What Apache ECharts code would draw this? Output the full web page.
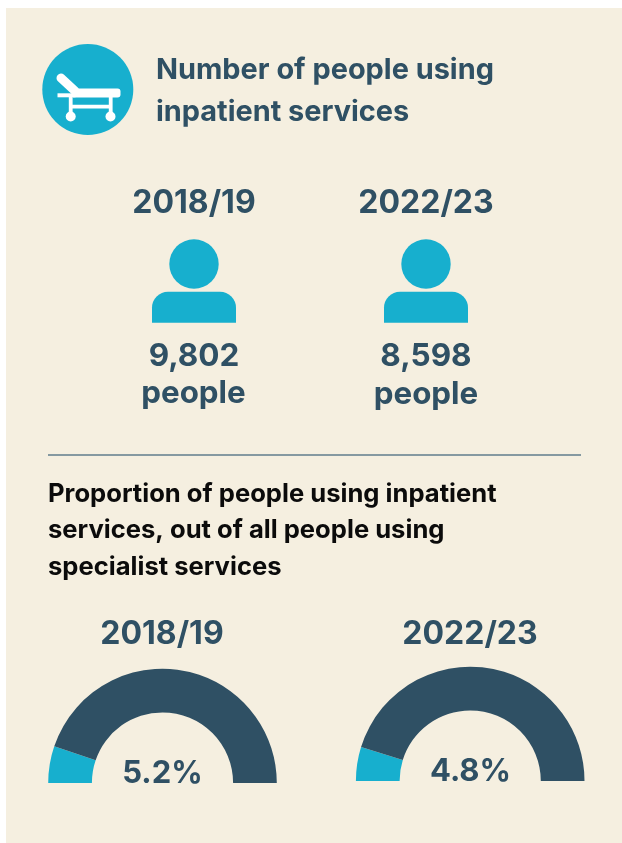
<!DOCTYPE html>
<html><head><meta charset="utf-8">
<style>html,body{margin:0;padding:0;background:#fff}#c{width:622px;height:843px}</style>
<script src="https://cdn.jsdelivr.net/npm/echarts@6/dist/echarts.min.js"></script>
</head><body><div id="c"></div>
<script>
const titleLines = ['Number of people using','inpatient services'];
const sectionLines = ['Proportion of people using inpatient','services, out of all people using','specialist services'];
const years = ['2018/19','2022/23'];
const peopleCounts = ['9,802','8,598'];
const shareValues = [5.2,4.8];
const halfRingTotal = 50;
const remainder = shareValues.map(v => +(halfRingTotal - v).toFixed(1));

const BG='#F5EFE0', TEAL='#17AFCE', DARK='#2F5064', FONT='Inter';
const chart = echarts.init(document.getElementById('c'),null,{renderer:'canvas'});
const txt=(s,x,y,size,fill,align,weight)=>({type:'text',z:10,style:{text:s,x,y,fill,align:align||'center',verticalAlign:'middle',fontFamily:FONT,fontSize:size,fontWeight:weight||700}});
const g=[];
g.push({type:'rect',z:-1,shape:{x:6,y:8,width:616,height:835},style:{fill:BG}});
// bed icon
g.push({type:'circle',z:5,shape:{cx:87.8,cy:89.5,r:45.5},style:{fill:TEAL}});
const W={fill:'#fff'};
g.push({type:'line',z:6,shape:{x1:61,y1:78,x2:75,y2:91},style:{stroke:'#fff',lineWidth:9,lineCap:'round'}});
g.push({type:'rect',z:6,shape:{x:73,y:88.5,width:47.5,height:9,r:[0,3,3,0]},style:W});
g.push({type:'rect',z:6,shape:{x:57.5,y:93.3,width:18,height:4},style:W});
g.push({type:'rect',z:6,shape:{x:68.8,y:96,width:3.8,height:20},style:W});
g.push({type:'rect',z:6,shape:{x:108.8,y:96,width:3.8,height:20},style:W});
g.push({type:'rect',z:6,shape:{x:69,y:104.8,width:43,height:3.8},style:W});
g.push({type:'circle',z:6,shape:{cx:70.7,cy:116.5,r:5},style:W});
g.push({type:'circle',z:6,shape:{cx:110.5,cy:116.5,r:5},style:W});
titleLines.forEach((s,i)=>g.push(txt(s,156,[70,112][i],28.9,DARK,'left',700)));
// people panels
[194,426].forEach((cx,i)=>{
  g.push(txt(years[i],cx,203,32,DARK));
  g.push({type:'circle',z:5,shape:{cx,cy:264,r:24.7},style:{fill:TEAL}});
  g.push({type:'rect',z:5,shape:{x:cx-42,y:291.7,width:84,height:31,r:[16,16,0,0]},style:{fill:TEAL}});
  g.push(txt(peopleCounts[i],[194,426][i],357,31.5,DARK));
  g.push(txt('people',[193.5,426][i],[394,395][i],31.3,DARK));
});
g.push({type:'rect',z:5,shape:{x:48,y:454.3,width:533,height:1.4},style:{fill:'#5F7D8C'}});
sectionLines.forEach((s,i)=>g.push(txt(s,48,[494,530,567][i],25.6,'#0B0B0B','left',700)));
// ring labels
const ringCx=[162.5,470.2], ringCy=[783,781];
years.forEach((y,i)=>{
  g.push(txt(y,[162,470][i],634,32,DARK));
  g.push(txt(shareValues[i].toFixed(1)+'%',[162.5,470.5][i],[774,772][i],31,DARK));
});
const series=shareValues.map((v,i)=>({
  type:'pie',silent:true,startAngle:180,endAngle:0,clockwise:true,
  center:[ringCx[i],ringCy[i]],radius:[70.6,114.3],
  label:{show:false},labelLine:{show:false},animation:false,
  data:[{value:v,itemStyle:{color:TEAL}},{value:remainder[i],itemStyle:{color:DARK}}]
}));
chart.setOption({backgroundColor:'#fff',animation:false,graphic:{elements:g},series});
</script></body></html>
